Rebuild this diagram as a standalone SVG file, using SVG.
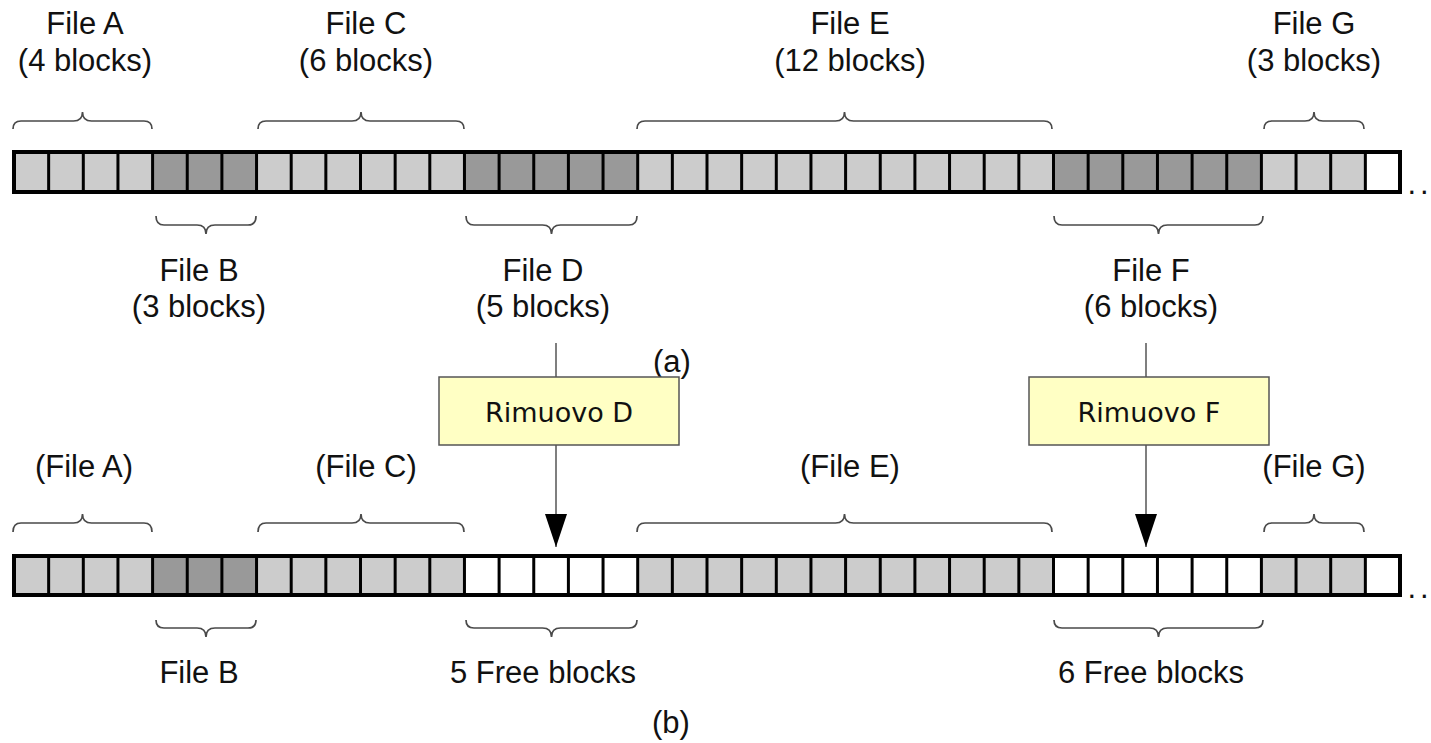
<svg xmlns="http://www.w3.org/2000/svg" width="1431" height="743" viewBox="0 0 1431 743">
  <style>
    .lbl { font-family: "Liberation Sans", Arial, sans-serif; font-size: 31px; fill: #111; text-anchor: middle; }
    .act { font-family: "DejaVu Sans", Verdana, sans-serif; font-size: 27px; fill: #111; text-anchor: middle; }
    .light { fill: #cccccc; }
    .dark { fill: #999999; }
    .free { fill: #ffffff; }
    .brace { fill: none; stroke: #4a4a4a; stroke-width: 1.7; }
    .frame { fill: none; stroke: #000; stroke-width: 4; }
    .sep { stroke: #000; stroke-width: 3; }
    .box { fill: #ffffc4; stroke: #555; stroke-width: 1.5; }
    .link { stroke: #555; stroke-width: 1.5; fill: none; }
  </style>
  <defs>
    <!-- block separators for a 40-block strip (pitch 34.65) -->
    <path id="seps" class="sep" d="M48.65 0V40M83.3 0V40M117.95 0V40M152.6 0V40M187.25 0V40M221.9 0V40M256.55 0V40M291.2 0V40M325.85 0V40M360.5 0V40M395.15 0V40M429.8 0V40M464.45 0V40M499.1 0V40M533.75 0V40M568.4 0V40M603.05 0V40M637.7 0V40M672.35 0V40M707 0V40M741.65 0V40M776.3 0V40M810.95 0V40M845.6 0V40M880.25 0V40M914.9 0V40M949.55 0V40M984.2 0V40M1018.85 0V40M1053.5 0V40M1088.15 0V40M1122.8 0V40M1157.45 0V40M1192.1 0V40M1226.75 0V40M1261.4 0V40M1296.05 0V40M1330.7 0V40M1365.35 0V40"/>
    <!-- filled triangle, tip at the end of the path -->
    <marker id="tri" viewBox="0 0 33 22" refX="33" refY="11" markerWidth="33" markerHeight="22" markerUnits="userSpaceOnUse" orient="auto">
      <path d="M0 0L33 11L0 22Z" fill="#000"/>
    </marker>
  </defs>

  <!-- (a) initial disk layout -->
  <g id="strip-a">
    <rect class="light" x="14" y="152" width="138.6" height="40"/>
    <rect class="dark" x="152.6" y="152" width="103.95" height="40"/>
    <rect class="light" x="256.55" y="152" width="207.9" height="40"/>
    <rect class="dark" x="464.45" y="152" width="173.25" height="40"/>
    <rect class="light" x="637.7" y="152" width="415.8" height="40"/>
    <rect class="dark" x="1053.5" y="152" width="207.9" height="40"/>
    <rect class="light" x="1261.4" y="152" width="103.95" height="40"/>
    <rect class="free" x="1365.35" y="152" width="34.65" height="40"/>
    <use href="#seps" y="152"/>
    <rect class="frame" x="14" y="152" width="1386" height="40"/>
    <text class="lbl" x="1420" y="194" letter-spacing="4">..</text>
  </g>

  <g id="braces-a">
    <path class="brace" d="M13 129Q13 121 21 121H73.5Q82.5 121 82.5 112Q82.5 121 91.5 121H144Q152 121 152 129"/>
    <path class="brace" d="M258 129Q258 121 266 121H352Q361 121 361 112Q361 121 370 121H456Q464 121 464 129"/>
    <path class="brace" d="M637 129Q637 121 645 121H835.5Q844.5 121 844.5 112Q844.5 121 853.5 121H1044Q1052 121 1052 129"/>
    <path class="brace" d="M1264 129Q1264 121 1272 121H1305Q1314 121 1314 112Q1314 121 1323 121H1356Q1364 121 1364 129"/>
    <path class="brace" d="M156 216Q156 225 164 225H197Q206 225 206 234Q206 225 215 225H248Q256 225 256 216"/>
    <path class="brace" d="M466 216Q466 225 474 225H542.5Q551.5 225 551.5 234Q551.5 225 560.5 225H629Q637 225 637 216"/>
    <path class="brace" d="M1054 216Q1054 225 1062 225H1149.5Q1158.5 225 1158.5 234Q1158.5 225 1167.5 225H1255Q1263 225 1263 216"/>
  </g>

  <g id="labels-a">
    <text class="lbl" x="85" y="34">File A</text>
    <text class="lbl" x="85" y="71">(4 blocks)</text>
    <text class="lbl" x="366" y="34">File C</text>
    <text class="lbl" x="366" y="71">(6 blocks)</text>
    <text class="lbl" x="850" y="34">File E</text>
    <text class="lbl" x="850" y="71">(12 blocks)</text>
    <text class="lbl" x="1314" y="34">File G</text>
    <text class="lbl" x="1314" y="71">(3 blocks)</text>
    <text class="lbl" x="199" y="281">File B</text>
    <text class="lbl" x="199" y="317">(3 blocks)</text>
    <text class="lbl" x="543" y="281">File D</text>
    <text class="lbl" x="543" y="317">(5 blocks)</text>
    <text class="lbl" x="1151" y="281">File F</text>
    <text class="lbl" x="1151" y="317">(6 blocks)</text>
    <text class="lbl" x="672" y="372">(a)</text>
  </g>

  <!-- delete actions -->
  <g id="connectors">
    <path class="link" d="M556 343V377"/>
    <path class="link" d="M556 445V547" marker-end="url(#tri)"/>
    <path class="link" d="M1146 343V377"/>
    <path class="link" d="M1146 445V547" marker-end="url(#tri)"/>
  </g>

  <g id="remove-d">
    <rect class="box" x="439" y="377" width="240" height="68"/>
    <text class="act" x="559" y="422">Rimuovo D</text>
  </g>

  <g id="remove-f">
    <rect class="box" x="1029" y="377" width="240" height="68"/>
    <text class="act" x="1149" y="422">Rimuovo F</text>
  </g>

  <!-- (b) layout after deletion -->
  <g id="strip-b">
    <rect class="light" x="14" y="556" width="138.6" height="39"/>
    <rect class="dark" x="152.6" y="556" width="103.95" height="39"/>
    <rect class="light" x="256.55" y="556" width="207.9" height="39"/>
    <rect class="free" x="464.45" y="556" width="173.25" height="39"/>
    <rect class="light" x="637.7" y="556" width="415.8" height="39"/>
    <rect class="free" x="1053.5" y="556" width="207.9" height="39"/>
    <rect class="light" x="1261.4" y="556" width="103.95" height="39"/>
    <rect class="free" x="1365.35" y="556" width="34.65" height="39"/>
    <use href="#seps" y="556"/>
    <rect class="frame" x="14" y="556" width="1386" height="39"/>
    <text class="lbl" x="1420" y="598" letter-spacing="4">..</text>
  </g>

  <g id="braces-b">
    <path class="brace" d="M13 532Q13 523 21 523H73.5Q82.5 523 82.5 514Q82.5 523 91.5 523H144Q152 523 152 532"/>
    <path class="brace" d="M258 532Q258 523 266 523H352Q361 523 361 514Q361 523 370 523H456Q464 523 464 532"/>
    <path class="brace" d="M637 532Q637 523 645 523H835.5Q844.5 523 844.5 514Q844.5 523 853.5 523H1044Q1052 523 1052 532"/>
    <path class="brace" d="M1264 532Q1264 523 1272 523H1305Q1314 523 1314 514Q1314 523 1323 523H1356Q1364 523 1364 532"/>
    <path class="brace" d="M156 620Q156 628 164 628H197Q206 628 206 637Q206 628 215 628H248Q256 628 256 620"/>
    <path class="brace" d="M466 620Q466 628 474 628H542.5Q551.5 628 551.5 637Q551.5 628 560.5 628H629Q637 628 637 620"/>
    <path class="brace" d="M1054 620Q1054 628 1062 628H1149.5Q1158.5 628 1158.5 637Q1158.5 628 1167.5 628H1255Q1263 628 1263 620"/>
  </g>

  <g id="labels-b">
    <text class="lbl" x="84" y="477">(File A)</text>
    <text class="lbl" x="366" y="477">(File C)</text>
    <text class="lbl" x="850" y="477">(File E)</text>
    <text class="lbl" x="1314" y="477">(File G)</text>
    <text class="lbl" x="199" y="683">File B</text>
    <text class="lbl" x="543" y="683">5 Free blocks</text>
    <text class="lbl" x="1151" y="683">6 Free blocks</text>
    <text class="lbl" x="671" y="733">(b)</text>
  </g>
</svg>
